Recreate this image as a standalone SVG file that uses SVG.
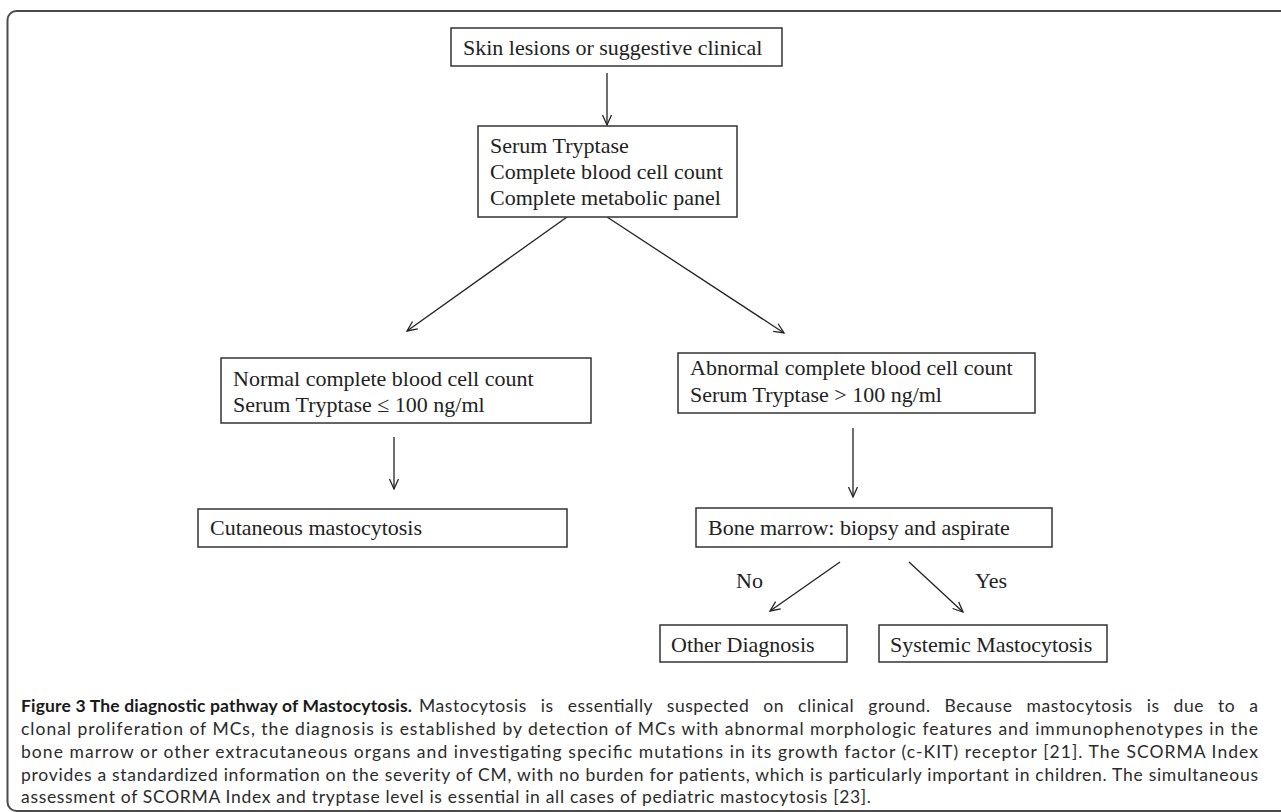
<svg xmlns="http://www.w3.org/2000/svg" width="1281" height="812" viewBox="0 0 1281 812">
<defs>
<marker id="ah" markerUnits="userSpaceOnUse" markerWidth="14" markerHeight="12" refX="12" refY="6" orient="auto" viewBox="0 0 14 12">
<path d="M2,1.5 L12,6 L2,10.5" fill="none" stroke="#222" stroke-width="1.3"/>
</marker>
<style>
.box{fill:#fff;stroke:#333;stroke-width:1.5}
.t{font-family:"Liberation Serif","Times New Roman",serif;font-size:22px;fill:#222}
.c{stroke:#222;stroke-width:1.3;fill:none;marker-end:url(#ah)}
.cap{font-family:Lato,"Open Sans",sans-serif;font-size:17.5px;fill:#2b2b2b}
.capb{font-family:Lato,"Open Sans",sans-serif;font-size:17.5px;font-weight:bold;fill:#1a1a1a}
</style>
</defs>
<rect width="1281" height="812" fill="#fff"/>
<rect x="7.5" y="11" width="1300" height="800" rx="9" fill="none" stroke="#4a4a4a" stroke-width="2"/>
<g id="connectors">
<line class="c" x1="607" y1="73" x2="607" y2="125"/>
<line class="c" x1="567" y1="217" x2="407" y2="331"/>
<line class="c" x1="607" y1="217" x2="784" y2="333"/>
<line class="c" x1="394" y1="437" x2="394" y2="489"/>
<line class="c" x1="853" y1="428" x2="853" y2="497"/>
<line class="c" x1="840" y1="562" x2="770" y2="611"/>
<line class="c" x1="909" y1="562" x2="963" y2="612"/>
</g>
<g id="n1"><rect class="box" x="451" y="28" width="331" height="38"/><text class="t" x="463" y="55">Skin lesions or suggestive clinical</text></g>
<g id="n2"><rect class="box" x="478" y="126" width="259" height="91"/><text class="t" x="490" y="153">Serum Tryptase</text><text class="t" x="490" y="179">Complete blood cell count</text><text class="t" x="490" y="205">Complete metabolic panel</text></g>
<g id="n3"><rect class="box" x="221" y="358" width="370" height="65"/><text class="t" x="233" y="386">Normal complete blood cell count</text><text class="t" x="233" y="412">Serum Tryptase ≤ 100 ng/ml</text></g>
<g id="n4"><rect class="box" x="678" y="353" width="357" height="60"/><text class="t" x="690" y="375">Abnormal complete blood cell count</text><text class="t" x="690" y="402">Serum Tryptase &gt; 100 ng/ml</text></g>
<g id="n5"><rect class="box" x="198" y="509" width="369" height="38"/><text class="t" x="210" y="535">Cutaneous mastocytosis</text></g>
<g id="n6"><rect class="box" x="696" y="508" width="356" height="39"/><text class="t" x="708" y="535">Bone marrow: biopsy and aspirate</text></g>
<g id="n7"><rect class="box" x="660" y="625" width="187" height="37"/><text class="t" x="671" y="652">Other Diagnosis</text></g>
<g id="n8"><rect class="box" x="879" y="625" width="228" height="37"/><text class="t" x="890" y="652">Systemic Mastocytosis</text></g>
<g id="labels"><text class="t" x="736" y="588">No</text><text class="t" x="975" y="588">Yes</text></g>
<g id="caption">
<text class="capb" x="21" y="712" textLength="391" lengthAdjust="spacing">Figure 3 The diagnostic pathway of Mastocytosis.</text>
<text class="cap" x="419" y="712" textLength="839" lengthAdjust="spacing" word-spacing="9">Mastocytosis is essentially suspected on clinical ground. Because mastocytosis is due to a</text>
<text class="cap" x="21" y="735" textLength="1237" lengthAdjust="spacing">clonal proliferation of MCs, the diagnosis is established by detection of MCs with abnormal morphologic features and immunophenotypes in the</text>
<text class="cap" x="21" y="758" textLength="1237" lengthAdjust="spacing">bone marrow or other extracutaneous organs and investigating specific mutations in its growth factor (c-KIT) receptor [21]. The SCORMA Index</text>
<text class="cap" x="21" y="781" textLength="1237" lengthAdjust="spacing">provides a standardized information on the severity of CM, with no burden for patients, which is particularly important in children. The simultaneous</text>
<text class="cap" x="21" y="803" textLength="850" lengthAdjust="spacing">assessment of SCORMA Index and tryptase level is essential in all cases of pediatric mastocytosis [23].</text>
</g>
</svg>
